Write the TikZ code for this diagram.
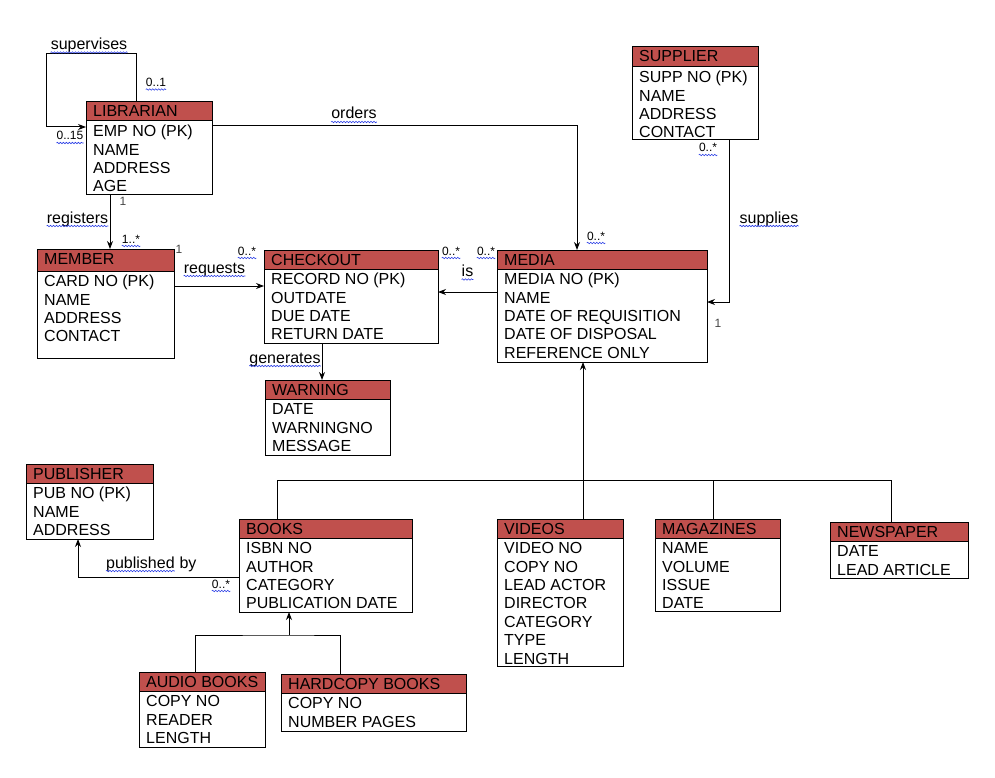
\documentclass[tikz,border=0pt]{standalone}
\usepackage{fontspec}
\setmainfont{Liberation Sans}
\usetikzlibrary{arrows.meta,decorations.pathmorphing}
\definecolor{hdr}{RGB}{192,80,77}
\definecolor{spell}{RGB}{40,60,230}
\definecolor{onecol}{RGB}{70,70,70}
\tikzset{
  ehead/.style={anchor=north west, draw, fill=hdr, line width=1pt, inner sep=0pt, outer sep=0pt},
  ebox/.style={anchor=north west, draw, line width=1pt, inner sep=0pt, outer sep=0pt},
  etitle/.style={anchor=base west, inner sep=0pt, font=\fontsize{16}{18.4}\selectfont},
  erows/.style={anchor=north west, inner sep=0pt, align=left, font=\fontsize{16}{18.4}\selectfont},
  lbl/.style={inner sep=0pt, anchor=base, font=\fontsize{16}{18}\selectfont},
  mult/.style={inner sep=0pt, anchor=base, font=\fontsize{12}{14}\selectfont},
  onelbl/.style={mult, text=onecol},
  wavy/.style={draw=spell, line width=0.6pt, decorate, decoration={snake, segment length=3pt, amplitude=0.7pt}},
  arr/.style={-{Stealth[length=8pt,width=6pt]}, line width=1pt},
  conn/.style={line width=1pt}
}
\newcommand\entity[8]{%
  \node[ehead, minimum width={#4-#2}, minimum height={#5-#3}] (#1-h) at (#2,#3) {};
  \node[ebox, minimum width={#4-#2}, minimum height={#6-#3}] (#1) at (#2,#3) {};
  \node[etitle] (#1-t) at (#2+7,#3+15) {#7};
  \node[erows] (#1-r) at (#2+7,#5+2.7) {\strut#8};
}
\newcommand\wvline[1]{\draw[wavy] ([yshift=-3pt]#1.base west) -- ([yshift=-3pt]#1.base east);}
\begin{document}
\begin{tikzpicture}[x=1pt,y=-1pt]
\useasboundingbox (0,0) rectangle (995,778);
\fill[white] (0,0) rectangle (995,778);

% entities
\entity{lib}{86}{102}{212}{121}{194}{LIBRARIAN}{EMP NO (PK)\\NAME\\ADDRESS\\AGE}
\entity{supp}{632}{47}{758}{67}{140}{SUPPLIER}{SUPP NO (PK)\\NAME\\ADDRESS\\CONTACT}
\entity{mem}{37}{249}{174}{271}{358}{MEMBER}{CARD NO (PK)\\NAME\\ADDRESS\\CONTACT}
\entity{chk}{264}{250}{438}{269}{343}{CHECKOUT}{RECORD NO (PK)\\OUTDATE\\DUE DATE\\RETURN DATE}
\entity{media}{497}{250}{707}{269}{362}{MEDIA}{MEDIA NO (PK)\\NAME\\DATE OF REQUISITION\\DATE OF DISPOSAL\\REFERENCE ONLY}
\entity{warn}{265}{380}{390}{399}{455}{WARNING}{DATE\\WARNINGNO\\MESSAGE}
\entity{pub}{26}{464}{153}{483}{539}{PUBLISHER}{PUB NO (PK)\\NAME\\ADDRESS}
\entity{books}{239}{519}{412}{538}{612}{BOOKS}{ISBN NO\\AUTHOR\\CATEGORY\\PUBLICATION DATE}
\entity{videos}{497}{519}{623}{538}{666}{VIDEOS}{VIDEO NO\\COPY NO\\LEAD ACTOR\\DIRECTOR\\CATEGORY\\TYPE\\LENGTH}
\entity{mags}{655}{519}{780}{538}{611}{MAGAZINES}{NAME\\VOLUME\\ISSUE\\DATE}
\entity{news}{830}{522}{968}{541}{578}{NEWSPAPER}{DATE\\LEAD ARTICLE}
\entity{audio}{139}{672}{265}{691}{747}{AUDIO BOOKS}{COPY NO\\READER\\LENGTH}
\entity{hard}{281}{674}{466}{693}{731}{HARDCOPY BOOKS}{COPY NO\\NUMBER PAGES}

% connectors
\draw[arr] ([xshift=50pt]lib.north west) |- (46,54) |- ([yshift=-25pt]lib.north west);
\draw[arr] ([yshift=-24pt]lib.north east) -| ([xshift=80pt]media.north west);
\draw[arr] ([xshift=24pt]lib.south west) -- ([xshift=73pt]mem.north west);
\draw[arr] ([yshift=-37pt]mem.north east) -- ([yshift=-36pt]chk.north west);
\draw[arr] ([yshift=-42pt]media.north west) -- ([yshift=-42pt]chk.north east);
\draw[arr] ([xshift=97pt]supp.south west) |- ([yshift=-52pt]media.north east);
\draw[arr] ([xshift=58pt]chk.south west) -- ([xshift=57pt]warn.north west);
\coordinate (mj) at (583,480);
\draw[arr] ([xshift=86pt]videos.north west) -- ([xshift=86pt]media.south west);
\draw[conn] ([xshift=38pt]books.north west) |- (mj);
\draw[conn] (mj) -| ([xshift=58pt]mags.north west);
\draw[conn] (mj) -| ([xshift=61pt]news.north west);
\draw[arr] ([yshift=-58pt]books.north west) -| ([xshift=52pt]pub.south west);
\coordinate (bj) at (289,635);
\draw[arr] (bj) -- ([xshift=50pt]books.south west);
\draw[conn] ([xshift=56pt]audio.north west) |- (bj) -| ([xshift=59pt]hard.north west);

% relation labels
\node[lbl] (l-sup) at (89,49.5) {supervises}; \wvline{l-sup}
\node[lbl] (l-ord) at (354,119) {orders}; \wvline{l-ord}
\node[lbl] (l-reg) at (77.5,223) {registers}; \wvline{l-reg}
\node[lbl] (l-req) at (214.5,273) {requests}; \wvline{l-req}
\node[lbl] (l-is) at (467.5,276.5) {is}; \wvline{l-is}
\node[lbl] (l-spl) at (769,223) {supplies}; \wvline{l-spl}
\node[lbl] (l-gen) at (285,363) {generates}; \wvline{l-gen}
\node[lbl, anchor=base west] (l-pb1) at (106,568) {published}; \wvline{l-pb1}
\node[lbl, anchor=base west] (l-pb2) at ([xshift=4.45pt]l-pb1.base east) {by};

% multiplicities
\node[mult] (m1) at (156,86.5) {0..1}; \wvline{m1}
\node[mult] (m2) at (70,140) {0..15}; \wvline{m2}
\node[onelbl] (m3) at (123,205) {1};
\node[mult] (m4) at (131,243) {1..*}; \wvline{m4}
\node[onelbl] (m5) at (179,253) {1};
\node[mult] (m6) at (247,255) {0..*}; \wvline{m6}
\node[mult] (m7) at (451,255) {0..*}; \wvline{m7}
\node[mult] (m8) at (486,255) {0..*}; \wvline{m8}
\node[mult] (m9) at (596,240) {0..*}; \wvline{m9}
\node[mult] (m10) at (708,152) {0..*}; \wvline{m10}
\node[onelbl] (m11) at (718,327) {1};
\node[mult] (m12) at (221,588) {0..*}; \wvline{m12}
\end{tikzpicture}
\end{document}
